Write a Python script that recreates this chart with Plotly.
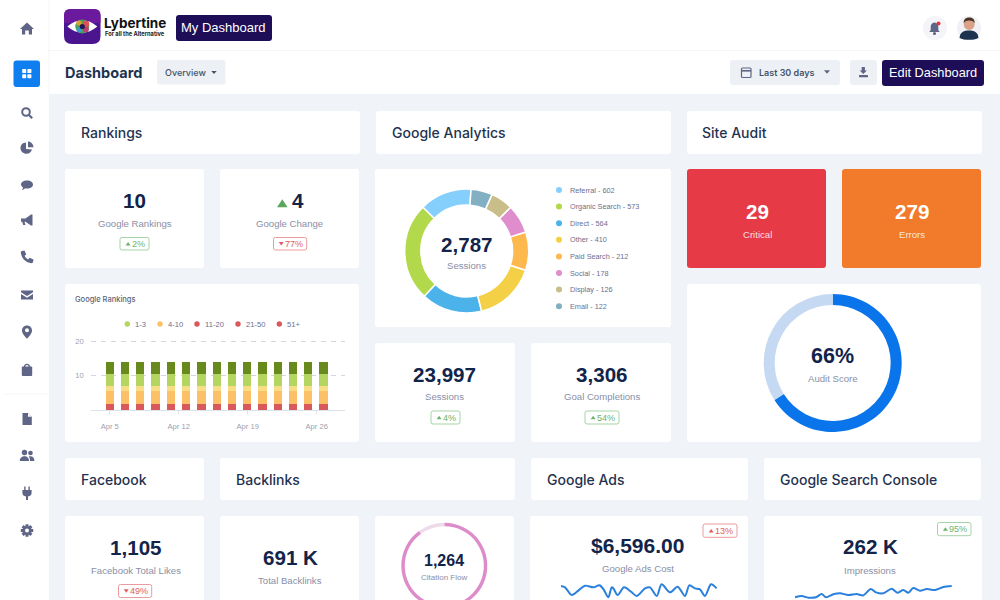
import re
import math
import plotly.graph_objects as go

# ---------- data ----------
rank_days = [5, 6.55, 8.1, 9.65, 11.2, 12.75, 14.3, 15.85, 17.4, 18.95, 20.5, 22.05, 23.6, 25.15, 26.7]
rank_red = [1.75] * 15
rank_orange = [3.9] * 15
rank_yellow = [1.35] * 15
rank_green = [3.5] * 15
rank_dark = [3.5] * 15
rank_tick_days = [5, 12, 19, 26]
rank_tick_text = ["Apr 5", "Apr 12", "Apr 19", "Apr 26"]
rank_grid_vals = [10, 20]
rank_legend = ["1-3", "4-10", "11-20", "21-50", "51+"]

source_labels = ["Referral", "Organic Search", "Direct", "Other", "Paid Search", "Social", "Display", "Email"]
source_counts = [602, 573, 564, 410, 212, 178, 126, 122]
source_ring_shares = [380, 712, 441, 449, 279, 209, 163, 155]

audit_parts = [66, 34]
citation_parts = [90, 10]

ads_x = [18, 30, 50, 70, 90, 115, 133, 145, 160, 170, 175, 188, 207, 228, 245, 270, 285, 305, 320, 345, 368, 390, 403, 420, 435, 450, 468, 485]
ads_y = [42, 38, 15, 28, 43, 38, 44, 33, 8, 38, 35, 15, 38, 25, 12, 35, 38, 12, 47, 23, 40, 12, 44, 35, 32, 12, 47, 35]
impr_x = [15, 35, 55, 78, 95, 108, 130, 150, 175, 200, 220, 242, 258, 280, 305, 322, 340, 355, 370, 390, 410, 435, 460, 485]
impr_y = [8, 12, 7, 8, 18, 8, 17, 20, 15, 18, 14, 33, 23, 20, 34, 22, 30, 22, 36, 28, 33, 30, 39, 42]

# ---------- helpers ----------
W, H = 1000, 640
NAVY = "#12244a"
GREY = "#8a8fa6"
ICON = "#5f6586"
DARKBTN = "#1e0d57"
BTN = "#edf1f5"
GREEN_T, GREEN_B = "#6cb36c", "#a5d3a5"
RED_T, RED_B = "#e05c60", "#eb9a9c"
LIB = "Liberation Sans"

def px(x):
    return x / W

def py(y):
    return 1 - y / H

shapes, annos = [], []

def conv(path, cx=0, cy=0, k=1):
    toks = re.findall(r"[MLCQZ]|-?\d+\.?\d*", path)
    res, is_x = "", True
    for t in toks:
        if t in "MLCQZ":
            res += t
            is_x = True
        else:
            v = float(t)
            if is_x:
                res += f"{px(cx + v * k):.5f},"
            else:
                res += f"{py(cy + v * k):.5f} "
            is_x = not is_x
    return res.strip()

def path(d, fill, cx=0, cy=0, k=1, line=None, lw=0, layer="above"):
    shapes.append(dict(type="path", xref="paper", yref="paper", path=conv(d, cx, cy, k), fillcolor=fill,
                       line=dict(color=line or "rgba(0,0,0,0)", width=lw), layer=layer))

def rrect(x0, y0, x1, y1, fill, r=3, line=None, lw=0, layer="below"):
    d = (f"M{x0 + r} {y0} L{x1 - r} {y0} Q{x1} {y0} {x1} {y0 + r} L{x1} {y1 - r} Q{x1} {y1} {x1 - r} {y1} "
         f"L{x0 + r} {y1} Q{x0} {y1} {x0} {y1 - r} L{x0} {y0 + r} Q{x0} {y0} {x0 + r} {y0} Z")
    path(d, fill, line=line, lw=lw, layer=layer)

def circ(cx, cy, r, fill, line=None, lw=0, layer="above"):
    shapes.append(dict(type="circle", xref="paper", yref="paper", x0=px(cx - r), x1=px(cx + r), y0=py(cy + r), y1=py(cy - r),
                       fillcolor=fill, line=dict(color=line or "rgba(0,0,0,0)", width=lw), layer=layer))

def seg(x0, y0, x1, y1, color, lw):
    shapes.append(dict(type="line", xref="paper", yref="paper", x0=px(x0), x1=px(x1), y0=py(y0), y1=py(y1),
                       line=dict(color=color, width=lw), layer="above"))

def text(x, y, s, size, color=NAVY, weight=400, anchor="center", family="Inter"):
    annos.append(dict(xref="paper", yref="paper", x=px(x), y=py(y), text=s, showarrow=False, xanchor=anchor, yanchor="middle",
                      font=dict(size=size, color=color, family=family, weight=weight), borderpad=0, borderwidth=0))

def num(x, y, s, size=20.6, color=NAVY):
    text(x, y, s, size, color, 700, family=LIB)

def lab(x, y, s, size=9.6, color=GREY):
    text(x, y, s, size, color, 400, family=LIB)

def tri(cx, cy, w, h, color, up=True):
    if up:
        path(f"M{cx - w / 2} {cy + h / 2} L{cx + w / 2} {cy + h / 2} L{cx} {cy - h / 2} Z", color)
    else:
        path(f"M{cx - w / 2} {cy - h / 2} L{cx + w / 2} {cy - h / 2} L{cx} {cy + h / 2} Z", color)

def badge(x0, y0, x1, y1, label, good, up):
    t, b = (GREEN_T, GREEN_B) if good else (RED_T, RED_B)
    rrect(x0, y0, x1, y1, "white", r=2, line=b, lw=1)
    tw = len(label) * 4.9
    cx = (x0 + x1) / 2
    tri(cx - tw / 2 - 1.5, (y0 + y1) / 2, 5, 3.5, t, up)
    text(cx + 3.5, (y0 + y1) / 2 + 0.3, label, 9, t, family=LIB)

# ---------- page frame ----------
rrect(0, 0, 49, H, "white", r=0)
rrect(0, 0, 1000, 94, "white", r=0)
seg(49, 50.5, 1000, 50.5, "#f3f5f8", 1)
seg(49, 0, 49, 94, "#f3f5f8", 1)
seg(5, 394, 48, 394, "#f3f5f8", 1)

cards = [
    (65, 111, 360, 154), (376, 111, 671, 154), (687, 111, 982, 154),
    (65, 169, 204, 268), (220, 169, 359, 268), (65, 284, 359, 442),
    (375, 169, 671, 327), (375, 343, 515, 442), (531, 343, 671, 442),
    (687, 284, 981, 442),
    (65, 458, 204, 500), (220, 458, 515, 500), (531, 458, 748, 500), (764, 458, 981, 500),
    (65, 516, 204, 630), (220, 516, 359, 630), (375, 516, 514, 630), (530, 516, 748, 630), (764, 516, 982, 630),
]
for c in cards:
    rrect(*c, "white", r=3)
rrect(687, 169, 826, 268, "#e63a46", r=3)
rrect(842, 169, 981, 268, "#f17a2b", r=3)

# ---------- sidebar icons ----------
sx = 27
path("M0 -6.5 L-7 0 L-5 0 L-5 5.5 L-1.8 5.5 L-1.8 1.5 L1.8 1.5 L1.8 5.5 L5 5.5 L5 0 L7 0 Z", ICON, sx, 29)
rrect(13.5, 60.5, 40, 87, "#0f7ff0", r=3, layer="above")
for dx, dy in [(-4.6, -4.6), (0.6, -4.6), (-4.6, 0.6), (0.6, 0.6)]:
    rrect(sx + dx - 0.2, 73.7 + dy, sx + dx + 3.8, 73.7 + dy + 4, "white", r=0.7, layer="above")
circ(sx - 1, 112, 3.8, "rgba(0,0,0,0)", ICON, 2)
seg(sx + 2, 115, sx + 5.2, 118.2, ICON, 2.2)
path("M-1 -5.5 C-4.6 -5.5 -6.5 -2.6 -6.5 0 C-6.5 3.3 -3.8 5.8 -0.5 5.8 C2 5.8 4.2 4.2 5 1.5 L-1 1 Z", ICON, sx, 148)
path("M1 -6.5 C4 -6.5 6.2 -4 6.5 -0.8 L1 -0.8 Z", ICON, sx, 148)
path("M0 -4.6 C3.8 -4.6 6 -2.8 6 -0.4 C6 2.2 3.2 3.6 0 3.6 C-0.8 3.6 -1.5 3.5 -2.2 3.4 C-3 4.2 -4.2 4.9 -5.2 4.9 C-4.5 4.1 -4 3.2 -4 2.4 C-5.2 1.6 -6 0.7 -6 -0.4 C-6 -2.8 -3.8 -4.6 0 -4.6 Z", ICON, sx, 185)
path("M-6 -1.5 L-1.5 -1.5 L4 -5.5 L5.5 -5.5 L5.5 5.5 L4 5.5 L-1.5 1.8 L-2.5 1.8 L-1.5 5 L-3.8 5 L-4.8 1.8 L-6 1.8 Z", ICON, sx, 220)
path("M-5 -6 L-2.5 -6.5 L-0.8 -2.5 L-2.4 -1.2 C-1.6 0.5 -0.4 1.7 1.2 2.4 L2.5 0.8 L6.5 2.5 L6 5 C5.8 5.8 5 6.3 4.4 6.2 C-1.5 5.4 -5.6 1.2 -6.2 -4.6 C-6.3 -5.2 -5.8 -5.8 -5 -6 Z", ICON, sx, 257)
path("M-6 -4.5 L6 -4.5 L6 -2.8 L0 1 L-6 -2.8 Z", ICON, sx, 295)
path("M-6 -1 L0 2.8 L6 -1 L6 4.5 L-6 4.5 Z", ICON, sx, 295)
path("M0 -6.5 C3 -6.5 5 -4.2 5 -1.6 C5 1.8 1.5 4.8 0 6.8 C-1.5 4.8 -5 1.8 -5 -1.6 C-5 -4.2 -3 -6.5 0 -6.5 Z", ICON, sx, 332)
circ(sx, 330.3, 2, "white")
rrect(sx - 5.2, 366.5, sx + 5.2, 376, ICON, r=1, layer="above")
circ(sx, 367, 2.6, "rgba(0,0,0,0)", ICON, 1.4)
path("M-4.5 -6 L1 -6 L4.8 -2.2 L4.8 6 L-4.5 6 Z", ICON, sx, 419)
path("M1 -6 L1 -2.2 L4.8 -2.2 Z", "white", sx, 419)
circ(sx - 2.5, 452.5, 2.7, ICON)
circ(sx + 3.5, 453, 2.3, ICON)
path("M-7.2 5 C-7.2 1.6 -4.8 0.2 -2.5 0.2 C-0.2 0.2 2 1.6 2 5 Z", ICON, sx, 456)
path("M3 5 C3 3 2.6 1.6 1.8 0.6 C3.8 -0.2 7.4 0.6 7.4 5 Z", ICON, sx, 456)
path("M-2.8 -6.5 L-1.4 -6.5 L-1.4 -3 L1.4 -3 L1.4 -6.5 L2.8 -6.5 L2.8 -3 L4.6 -3 L4.6 0 C4.6 2 3 3.2 1 3.5 L1 7 L-1 7 L-1 3.5 C-3 3.2 -4.6 2 -4.6 0 L-4.6 -3 L-2.8 -3 Z", ICON, sx, 493)
gear = []
for i in range(8):
    a = i * math.pi / 4
    for da, r in [(-0.23, 6.4), (0.23, 6.4), (0.34, 4.6), (math.pi / 4 - 0.34, 4.6)]:
        gear.append((round(r * math.sin(a + da), 2), round(-r * math.cos(a + da), 2)))
path("M" + " L".join(f"{a} {b}" for a, b in gear) + " Z", ICON, sx, 530.5)
circ(sx, 530.5, 2, "white")

# ---------- header ----------
rrect(64, 9, 100.5, 44, "#4c1590", r=8, layer="above")
path("M6 0 L30.5 0 Q36.5 0 36.5 6 L36.5 14 L0 14 L0 6 Q0 0 6 0 Z", "#6b1a9e", 64, 9)
path("M-15 0 Q0 -12.5 15 0 Q0 12.5 -15 0 Z", "white", 82.3, 26.5)
circ(82.3, 26.5, 7, "#4aa05a")
circ(86, 24, 3.2, "#e0504e")
circ(79, 23, 2.6, "#e0a030")
circ(86, 29.5, 2.8, "#c03a7a")
circ(79, 30, 2.5, "#3f9ad0")
circ(82.3, 26.5, 2.6, "#20185a")
text(104, 22.5, "Lybertine", 13.5, "#111111", 700, "left", "Inter")
text(105, 34, "For all the Alternative", 5.7, "#222222", 700, "left", "Inter")
rrect(176, 15, 272, 41, DARKBTN, r=3)
text(223.5, 28, "My Dashboard", 13, "white", 400, family=LIB)

circ(935, 28, 12, "#f4f5f8")
path("M0 -6 C2.6 -6 3.8 -3.8 3.8 -1.5 L3.8 1.5 L5.2 3.5 L-5.2 3.5 L-3.8 1.5 L-3.8 -1.5 C-3.8 -3.8 -2.6 -6 0 -6 Z", ICON, 934.5, 28.5)
circ(934.5, 33.5, 1.6, ICON)
circ(938.5, 23.5, 2, "#e8323c")
circ(969, 28, 12, "#f0f1f4")
path("M-9.5 10 C-9 4 -5 2.5 0 2.5 C5 2.5 9 4 9.5 10 C5 12.5 -5 12.5 -9.5 10 Z", "#1c3350", 969, 28)
circ(969.2, 24.5, 5.4, "#d9a185")
path("M-5.4 -1 C-6 -5.5 -3 -7 0 -7 C3 -7 6 -5.5 5.4 -1 C4.8 -3 3 -4 0 -4 C-3 -4 -4.8 -3 -5.4 -1 Z", "#4a3326", 969.2, 24.5)

text(65, 72, "Dashboard", 14.5, "#1c3350", 700, "left")
rrect(157, 60, 225.5, 84.5, BTN, r=2)
text(165, 72.5, "Overview", 9, "#44546a", 500, "left")
tri(214, 72.5, 5.5, 3, "#44546a", False)
rrect(730, 60, 840, 85, BTN, r=3)
rrect(741.5, 68, 751, 77.5, "rgba(0,0,0,0)", r=1, line=ICON, lw=1.2, layer="above")
seg(741.5, 70.8, 751, 70.8, ICON, 1.6)
text(759, 72.8, "Last 30 days", 9, "#44546a", 600, "left")
tri(827, 72, 6, 3.5, ICON, False)
rrect(850, 60, 877, 85, BTN, r=3)
path("M-1.6 -5 L1.6 -5 L1.6 -1.5 L3.6 -1.5 L0 2 L-3.6 -1.5 L-1.6 -1.5 Z", ICON, 863.3, 72)
rrect(859, 75, 868, 77.3, ICON, r=0.5, layer="above")
rrect(882, 60, 984, 86, DARKBTN, r=3)
text(933, 72, "Edit Dashboard", 12.8, "white", 400, family=LIB)

# ---------- section headers ----------
for x, s, y in [(81, "Rankings", 133), (392, "Google Analytics", 133), (702, "Site Audit", 133),
                (81, "Facebook", 479.5), (236, "Backlinks", 479.5), (547, "Google Ads", 479.5), (780, "Google Search Console", 479.5)]:
    text(x, y, s, 14, "#1f3350", 500, "left")

# ---------- KPI cards ----------
num(134.5, 200.5, "10")
lab(134.5, 223.5, "Google Rankings")
badge(120, 237.5, 149, 250, "2%", True, True)
tri(282.3, 203.3, 10.5, 8, "#5aa65a", True)
num(298, 200.5, "4")
lab(289.7, 223.5, "Google Change")
badge(273.5, 237.5, 306.7, 250, "77%", False, False)

num(444.7, 374, "23,997")
lab(444.7, 396.7, "Sessions")
badge(431, 411, 460, 424, "4%", True, True)
num(601.7, 374, "3,306")
lab(601.7, 396.7, "Goal Completions")
badge(585, 411, 619, 424, "54%", True, True)

num(757, 211, "29", color="white")
lab(757, 234, "Critical", color="#f8dfe0")
num(911.5, 211, "279", color="white")
lab(911.5, 234, "Errors", color="#fde6d6")

num(136, 547.7, "1,105")
lab(136, 570, "Facebook Total Likes")
badge(118.5, 584.5, 151.7, 597.5, "49%", False, False)
num(290, 557.7, "691 K")
lab(290, 580, "Total Backlinks")
num(444.3, 560.7, "1,264", 16)
lab(444.3, 577.5, "Citation Flow", 8)
num(637.7, 545.7, "$6,596.00", 21)
lab(637.7, 568, "Google Ads Cost")
badge(703, 524, 737, 537.3, "13%", False, True)
num(870, 546, "262 K")
lab(870, 570, "Impressions")
badge(937.5, 522.5, 971, 535.7, "95%", True, True)

# ---------- figure ----------
fig = go.Figure()

# rankings stacked bars
for vals, col, name in [(rank_red, "#d9585c", "51+"), (rank_orange, "#fcc166", "4-10"), (rank_yellow, "#f8dc86", "yellow"),
                        (rank_green, "#b4d660", "1-3"), (rank_dark, "#68891c", "dark")]:
    fig.add_bar(x=rank_days, y=vals, name=name, marker=dict(color=col, line=dict(width=0)), width=0.84,
                showlegend=False, hoverinfo="skip", xaxis="x", yaxis="y")

text(75, 299, "Google Rankings", 7.5, "#5a6378", 500, "left")
leg_cols = ["#b4d660", "#fcc166", "#d9585c", "#d9585c", "#d9585c"]
leg_dot = [127.3, 160, 197, 238, 279.3]
for lab_txt, col, dx in zip(rank_legend, leg_cols, leg_dot):
    circ(dx, 324, 2.7, col)
    text(dx + 8, 324, lab_txt, 7.6, "#6b6f8f", 400, "left", LIB)

# sessions donut
src_cols = ["#85cffd", "#b2d84b", "#4cb3ea", "#f3d046", "#fdb84e", "#e08dcd", "#c9bd8a", "#83afc3"]
fig.add_pie(labels=source_labels, values=source_ring_shares, sort=False, direction="counterclockwise", rotation=-45, hole=0.74,
            marker=dict(colors=src_cols, line=dict(color="white", width=1.5)), textinfo="none", hoverinfo="skip", showlegend=False,
            domain=dict(x=[px(466.7 - 62), px(466.7 + 62)], y=[py(251 + 62), py(251 - 62)]))
num(466.5, 244, "2,787")
lab(466.5, 265.7, "Sessions")
for i, (src, cnt, col) in enumerate(zip(source_labels, source_counts, src_cols)):
    y = 190 + i * 16.6
    circ(559, y, 3, col)
    text(569.5, y, f"{src} - {cnt}", 7.3, "#6b6f8f", 400, "left", LIB)

# audit gauge
fig.add_pie(values=audit_parts, sort=False, direction="clockwise", rotation=0, hole=0.84,
            marker=dict(colors=["#0a75ea", "#c5daf2"], line=dict(width=0)), textinfo="none", hoverinfo="skip", showlegend=False,
            domain=dict(x=[px(832.7 - 69), px(832.7 + 69)], y=[py(363 + 69), py(363 - 69)]))
num(832.7, 356, "66%", 21.5)
lab(832.7, 378, "Audit Score")

# citation flow ring
fig.add_pie(values=citation_parts, sort=False, direction="clockwise", rotation=0, hole=0.92,
            marker=dict(colors=["#dd8cc9", "#eedbe9"], line=dict(width=0)), textinfo="none", hoverinfo="skip", showlegend=False,
            domain=dict(x=[px(444.3 - 43), px(444.3 + 43)], y=[py(565.7 + 43), py(565.7 - 43)]))

# sparklines
for xs, ys, xa, ya in [(ads_x, ads_y, "x2", "y2"), (impr_x, impr_y, "x3", "y3")]:
    fig.add_scatter(x=xs, y=ys, mode="lines", line=dict(color="#2a80dc", width=2, shape="spline", smoothing=0.8),
                    showlegend=False, hoverinfo="skip", xaxis=xa, yaxis=ya)

axis_font = dict(size=7.6, color="#9a9fb0", family=LIB)
hidden = dict(visible=False, fixedrange=True)
fig.update_layout(
    width=W, height=H, autosize=False, margin=dict(l=0, r=0, t=0, b=0, pad=0, autoexpand=False),
    paper_bgcolor="#f0f4f8", plot_bgcolor="rgba(0,0,0,0)", barmode="stack", bargap=0,
    shapes=shapes, annotations=annos, showlegend=False,
    xaxis=dict(domain=[px(90.7), px(345)], range=[3.07, 28.87], tickmode="array", tickvals=rank_tick_days, ticktext=rank_tick_text,
               showgrid=False, showline=True, linecolor="#dde1e8", linewidth=1, ticks="outside", ticklen=3, tickcolor="#dde1e8",
               tickfont=axis_font, ticklabelstandoff=6, zeroline=False, fixedrange=True, anchor="y"),
    yaxis=dict(domain=[py(410), py(338)], range=[0, 20.87], tickmode="array", tickvals=rank_grid_vals, showgrid=True, gridcolor="#d3d7df",
               griddash="5px,5px", gridwidth=1, showline=False, ticks="", tickfont=axis_font, zeroline=False, fixedrange=True, anchor="x",
               ticklabelstandoff=6, layer="below traces"),
    xaxis2=dict(domain=[px(555), px(725)], range=[0, 510], anchor="y2", **hidden),
    yaxis2=dict(domain=[py(600), py(575)], range=[0, 75], anchor="x2", **hidden),
    xaxis3=dict(domain=[px(790), px(960)], range=[0, 510], anchor="y3", **hidden),
    yaxis3=dict(domain=[py(600), py(575)], range=[0, 75], anchor="x3", **hidden),
)

fig.write_html("out.html", config=dict(displayModeBar=False, staticPlot=True),
               post_script="document.documentElement.style.overflow='hidden';document.body.style.overflow='hidden';document.body.style.margin='0';")
